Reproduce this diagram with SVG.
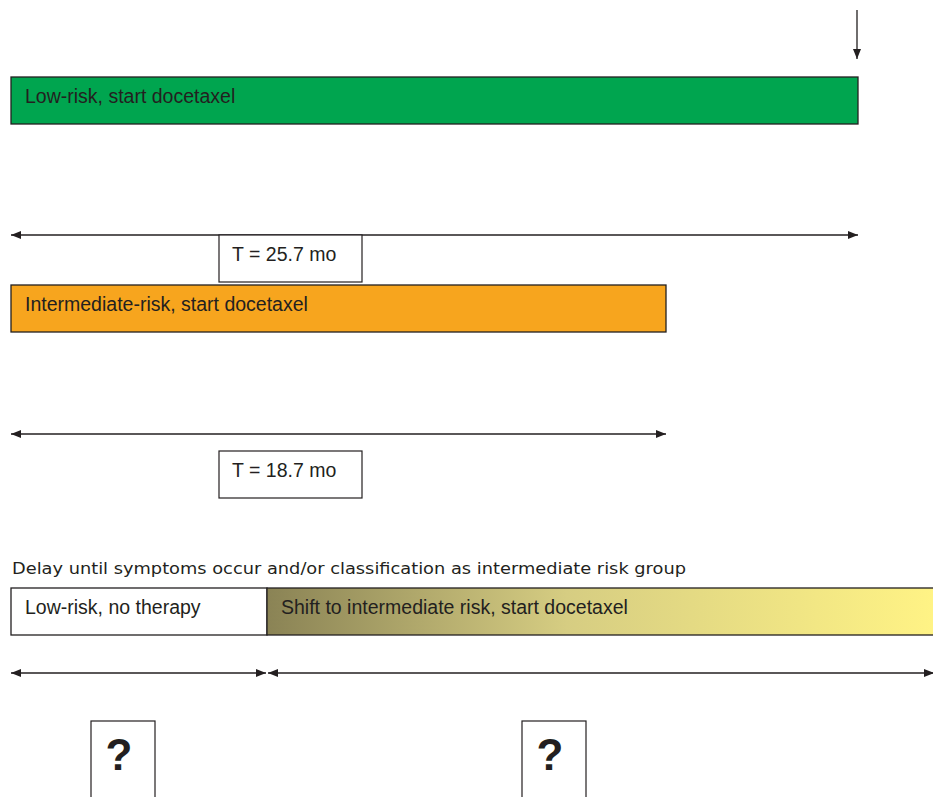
<svg xmlns="http://www.w3.org/2000/svg" width="933" height="797" viewBox="0 0 933 797">
<style>
.lbl{font-family:"Liberation Sans",Arial,sans-serif;font-size:19.5px;fill:#231f20}
.bar{stroke:#231f20;stroke-width:1.3}
.box{fill:#fff;stroke:#231f20;stroke-width:1.2}
.con{stroke:#231f20;stroke-width:1.3;fill:none}
.q{font-family:"Liberation Sans",Arial,sans-serif;font-size:44px;font-weight:bold;fill:#231f20}
</style>
<defs>
<marker id="ah" viewBox="0 0 10 8" refX="10" refY="4" markerWidth="10" markerHeight="8" markerUnits="userSpaceOnUse" orient="auto-start-reverse">
<path d="M0,0 L10,4 L0,8 Z" fill="#231f20"/>
</marker>
<linearGradient id="g" x1="267" y1="0" x2="933" y2="0" gradientUnits="userSpaceOnUse">
<stop offset="0" stop-color="#8a8355"/>
<stop offset="0.45" stop-color="#d6cd82"/>
<stop offset="1" stop-color="#fff385"/>
</linearGradient>
</defs>
<g id="connectors">
<line class="con" x1="857" y1="10" x2="857" y2="59" marker-end="url(#ah)"/>
<line class="con" x1="11" y1="235" x2="858" y2="235" marker-start="url(#ah)" marker-end="url(#ah)"/>
<line class="con" x1="11" y1="434" x2="666" y2="434" marker-start="url(#ah)" marker-end="url(#ah)"/>
<line class="con" x1="11" y1="673" x2="266" y2="673" marker-start="url(#ah)" marker-end="url(#ah)"/>
<line class="con" x1="268" y1="673" x2="934" y2="673" marker-start="url(#ah)" marker-end="url(#ah)"/>
</g>
<g id="low-risk-docetaxel">
<rect class="bar" x="11" y="77" width="847" height="47" fill="#00a54f"/>
<text class="lbl" x="25" y="103">Low-risk, start docetaxel</text>
</g>
<g id="t257">
<rect class="box" x="219" y="235" width="143" height="47"/>
<text class="lbl" x="232" y="261">T = 25.7 mo</text>
</g>
<g id="intermediate-docetaxel">
<rect class="bar" x="11" y="285" width="655" height="47" fill="#f7a51e"/>
<text class="lbl" x="25" y="311">Intermediate-risk, start docetaxel</text>
</g>
<g id="t187">
<rect class="box" x="219" y="451" width="143" height="47"/>
<text class="lbl" x="232" y="477">T = 18.7 mo</text>
</g>
<g id="delay-caption">
<text x="12" y="574" style="font-family:'DejaVu Sans',Verdana,sans-serif;font-size:16px;fill:#231f20" textLength="674" lengthAdjust="spacingAndGlyphs">Delay until symptoms occur and/or classification as intermediate risk group</text>
</g>
<g id="low-risk-no-therapy">
<rect class="bar" x="11" y="588" width="256" height="47" fill="#fff"/>
<text class="lbl" x="25" y="614">Low-risk, no therapy</text>
</g>
<g id="shift-intermediate">
<rect class="bar" x="267" y="588" width="680" height="47" fill="url(#g)"/>
<text class="lbl" x="281" y="614">Shift to intermediate risk, start docetaxel</text>
</g>
<g id="q1">
<rect class="box" x="91" y="721" width="64" height="90"/>
<text class="q" x="119" y="770" text-anchor="middle">?</text>
</g>
<g id="q2">
<rect class="box" x="522" y="721" width="64" height="90"/>
<text class="q" x="550" y="770" text-anchor="middle">?</text>
</g>
</svg>
